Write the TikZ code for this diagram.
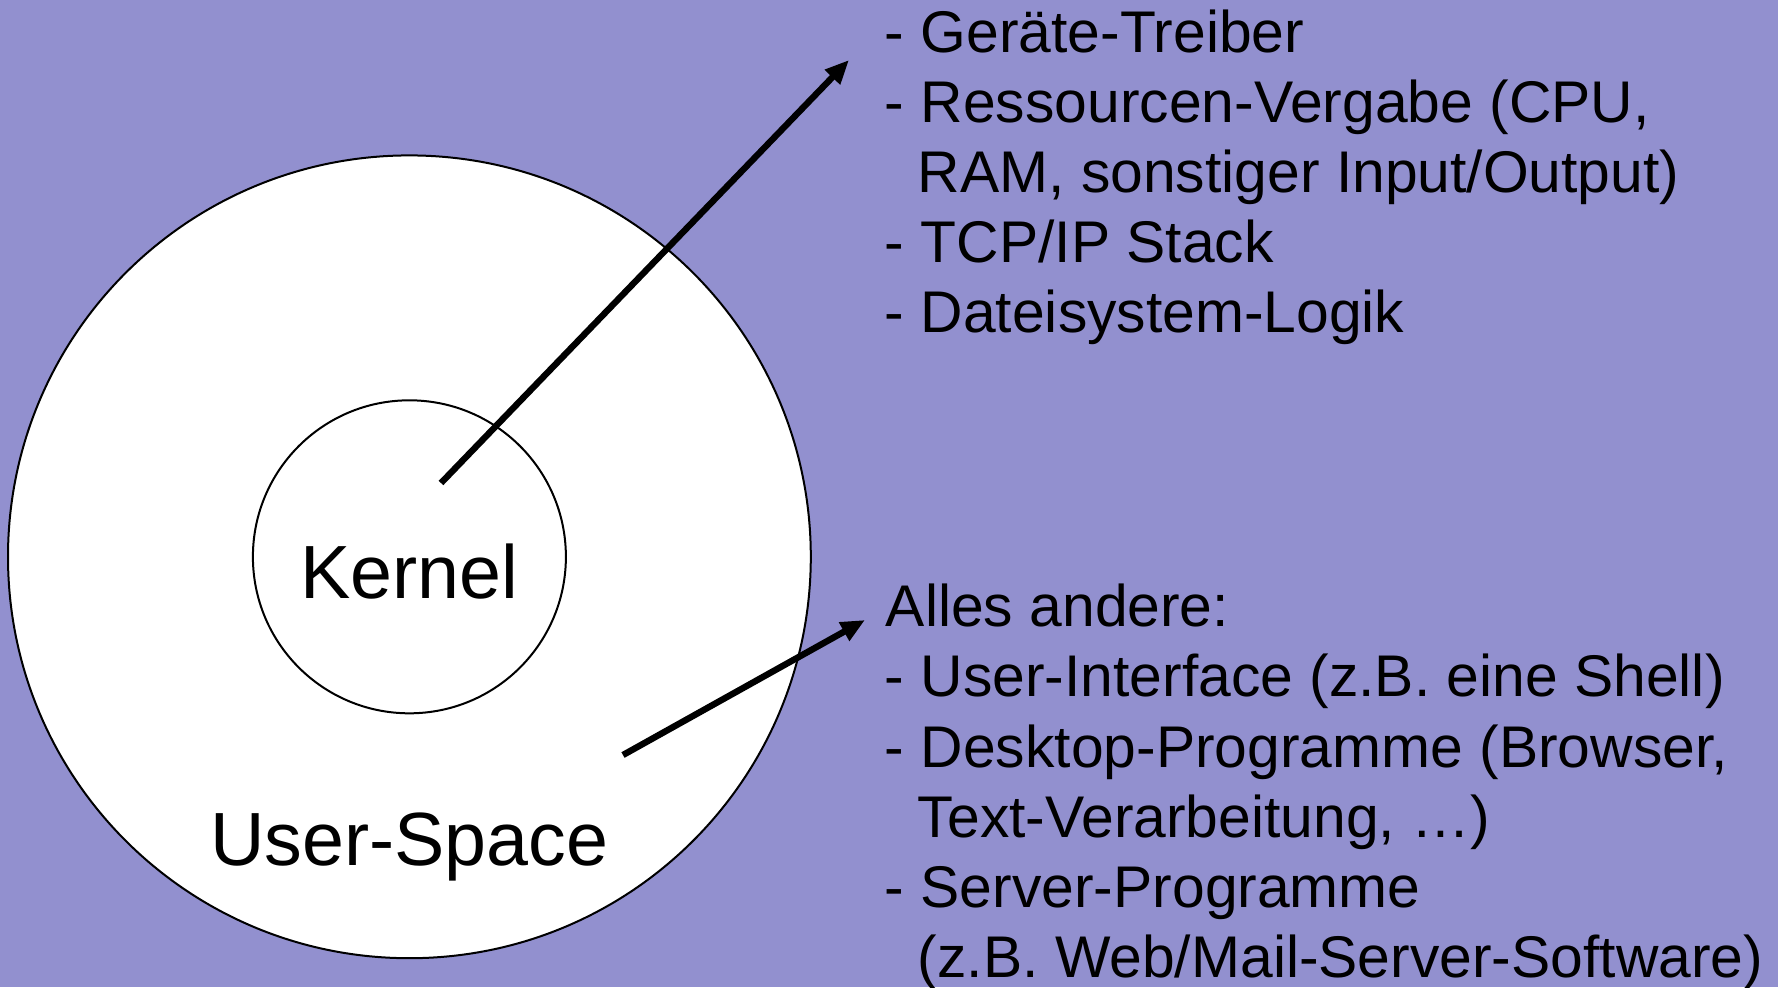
\documentclass[tikz,border=0pt]{standalone}
\usepackage{fontspec}
\setmainfont{Liberation Sans}
\usetikzlibrary{arrows.meta}
\definecolor{slidebg}{RGB}{146,144,207}
\tikzset{
    ring/.style={draw=black, line width=1pt, fill=white},
    pointer/.style={line width=3.2pt, -{Triangle[length=12pt,width=10pt]}},
    bigtext/.style={font=\fontsize{37.7pt}{45pt}\selectfont, anchor=base, inner sep=0pt},
    listtext/.style={font=\fontsize{29.4pt}{35pt}\selectfont, anchor=base west, inner sep=0pt}
}

\begin{document}
\begin{tikzpicture}[x=0.5pt,y=-0.5pt]
    % Background
    \fill[slidebg] (0,0) rectangle (1778,987);
    \useasboundingbox (0,0) rectangle (1778,987);

    % Draw the two circles
    \draw[ring] (409.4,556.8) circle (200.7pt);
    \draw[ring] (409.4,556.8) circle (78.25pt);

    % Labels inside the circles
    \node[bigtext] (kernel) at (409.4,598) {Kernel};
    \node[bigtext] (userspace) at (409.4,865) {User-Space};

    % Kernel list
    \node[listtext] (geraete) at (884.5,52) {- Geräte-Treiber};
    \node[listtext] (ressourcen) at (884.5,122) {- Ressourcen-Vergabe (CPU,};
    \node[listtext] (ressourcenb) at (917.5,192) {RAM, sonstiger Input/Output)};
    \node[listtext] (tcpip) at (884.5,262) {- TCP/IP Stack};
    \node[listtext] (dateisystem) at (884.5,332) {- Dateisystem-Logik};

    % User-space list
    \node[listtext] (alles) at (885.5,626) {Alles andere:};
    \node[listtext] (userif) at (884.5,696) {- User-Interface (z.B. eine Shell)};
    \node[listtext] (desktop) at (884.5,767) {- Desktop-Programme (Browser,};
    \node[listtext] (desktopb) at (917.5,837) {Text-Verarbeitung, …)};
    \node[listtext] (server) at (884.5,907) {- Server-Programme};
    \node[listtext] (serverb) at (917.5,977) {(z.B. Web/Mail-Server-Software)};

    % Arrows out of the circles
    \coordinate (kstart) at (441,483);
    \coordinate (ktip) at (849,60);
    \coordinate (ustart) at (623,755);
    \coordinate (utip) at (865,620);
    \draw[pointer] (kstart) -- (ktip); % Kernel
    \draw[pointer] (ustart) -- (utip); % User-Space

\end{tikzpicture}
\end{document}
